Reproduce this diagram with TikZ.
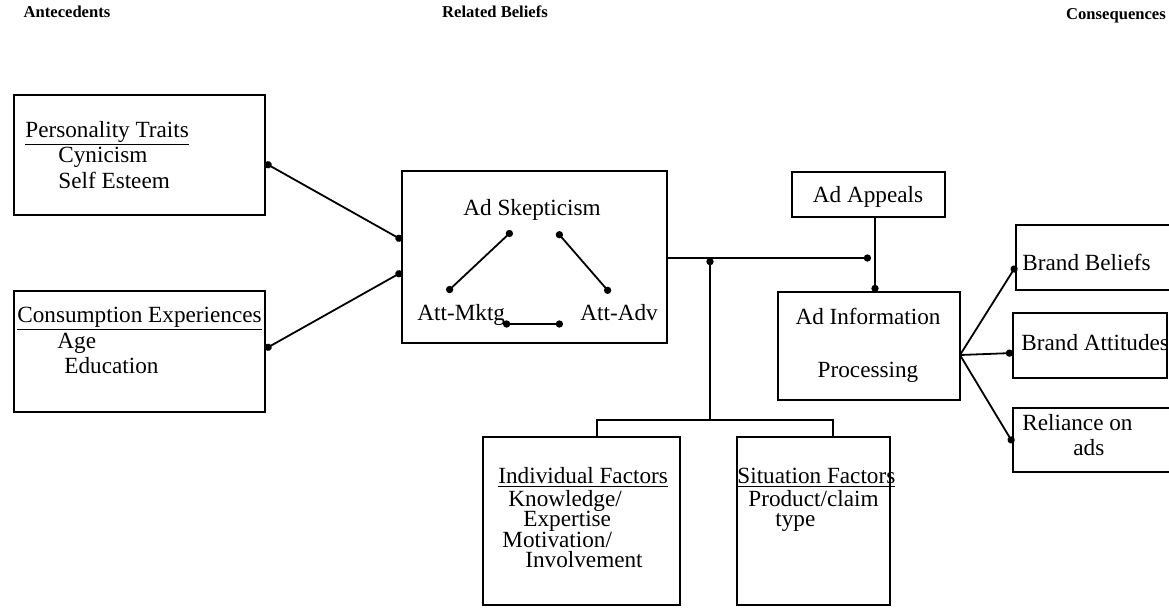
\documentclass[tikz,border=0pt]{standalone}
\usepackage{fontspec}
\setmainfont{Liberation Serif}
\usetikzlibrary{arrows.meta,fit}
\begin{document}
\begin{tikzpicture}[x=0.5pt,y=-0.5pt,
  box/.style={draw,line width=0.9pt,inner sep=0pt,fit=#1},
  txt/.style={anchor=base west,inner sep=0pt,font=\fontsize{11.6}{13}\selectfont},
  multi/.style={anchor=north west,inner sep=0pt,align=left,font=\fontsize{11.6}{10.2}\selectfont},
  head/.style={anchor=base,inner sep=0pt,font=\fontsize{8.3}{10}\selectfont\bfseries},
  link/.style={line width=0.9pt},
  dot/.style={line width=0.9pt,-{Circle[length=3.6pt]}},
  dots/.style={line width=0.9pt,{Circle[length=3.6pt]}-{Circle[length=3.6pt]}}]
\useasboundingbox (0,0) rectangle (1169,607);
% headings
\node[head] (hA) at (67,17) {Antecedents};
\node[head] (hR) at (495,17) {Related Beliefs};
\node[head] (hC) at (1116,19) {Consequences};
% box corners
\coordinate (p1) at (14,95);   \coordinate (p2) at (265,215);
\coordinate (c1) at (14,291);  \coordinate (c2) at (265,412);
\coordinate (m1) at (402,171); \coordinate (m2) at (667,343);
\coordinate (a1) at (792,172); \coordinate (a2) at (945,217);
\coordinate (i1) at (778,292); \coordinate (i2) at (960,400);
\coordinate (b1) at (1016,225); \coordinate (b2) at (1178,290);
\coordinate (t1) at (1013,313); \coordinate (t2) at (1167,378);
\coordinate (r1) at (1013,408); \coordinate (r2) at (1178,472);
\coordinate (d1) at (483,437); \coordinate (d2) at (680,605);
\coordinate (s1) at (737,437); \coordinate (s2) at (890,605);
\node[box={(p1)(p2)}] (pers) {};
\node[box={(c1)(c2)}] (cons) {};
\node[box={(m1)(m2)}] (mid) {};
\node[box={(a1)(a2)}] (appeals) {};
\node[box={(i1)(i2)}] (info) {};
\node[box={(b1)(b2)}] (beliefs) {};
\node[box={(t1)(t2)}] (attitudes) {};
\node[box={(r1)(r2)}] (reliance) {};
\node[box={(d1)(d2)}] (indiv) {};
\node[box={(s1)(s2)}] (situ) {};
% texts
\node[txt] (tp) at (25,137) {\underline{Personality Traits}};
\node[txt] (tp1) at (58,162) {Cynicism};
\node[txt] (tp2) at (58,188) {Self Esteem};
\node[txt] (tc) at (17,322) {\underline{Consumption Experiences}};
\node[txt] (tc1) at (57,348) {Age};
\node[txt] (tc2) at (64,373) {Education};
\node[txt] (skep) at (463,215) {Ad Skepticism};
\node[txt] (attm) at (417,320) {Att-Mktg};
\node[txt] (atta) at (580,320) {Att-Adv};
\node[txt,anchor=base] (tap) at (868,202) {Ad Appeals};
\node[txt,anchor=base] (ti1) at (868,324) {Ad Information};
\node[txt,anchor=base] (ti2) at (868,377) {Processing};
\node[txt] (tb) at (1022,270) {Brand Beliefs};
\node[txt] (tt) at (1021,350) {Brand Attitudes};
\node[multi] (tr) at (1022,414) {Reliance on\\[2.3pt]\hspace*{25.5pt}ads};
\node[txt] (td) at (498,483) {\underline{Individual Factors}};
\node[multi] (tdl) at (502,490) {\hspace*{3pt}Knowledge/\\\hspace*{10.5pt}Expertise\\Motivation/\\\hspace*{11.5pt}Involvement};
\node[txt] (ts) at (737,483) {\underline{Situation Factors}};
\node[multi] (tsl) at (748,490) {Product/claim\\\hspace*{13.5pt}type};
% connector points
\coordinate (pout) at (265,163);
\coordinate (cout) at (265,349);
\coordinate (min1) at (402,240);
\coordinate (min2) at (402,272);
\coordinate (sk1) at (512,231);
\coordinate (sk2) at (557,232);
\coordinate (am1) at (447,292);
\coordinate (aa1) at (610,293);
\coordinate (am2) at (503,324);
\coordinate (aa2) at (563,324);
\coordinate (mout) at (667,258);
\coordinate (jn) at (871,258);
\coordinate (apout) at (875,217);
\coordinate (infin) at (875,292);
\coordinate (infout) at (960,355);
\coordinate (bin) at (1016,266);
\coordinate (tin) at (1013,353);
\coordinate (rin) at (1013,443);
\coordinate (dtop) at (597,437);
\coordinate (stop) at (833,437);
\coordinate (brL) at (597,420);
\coordinate (brR) at (833,420);
\coordinate (brM) at (710,420);
\coordinate (vtop) at (710,258);
% connectors
\draw[dots] (pout) -- (min1);
\draw[dots] (cout) -- (min2);
\draw[dots] (am1) -- (sk1);
\draw[dots] (sk2) -- (aa1);
\draw[dots] (am2) -- (aa2);
\draw[dot] (mout) -- (jn);
\draw[dot] (apout) -- (infin);
\draw[dot] (infout) -- (bin);
\draw[dot] (infout) -- (tin);
\draw[dot] (infout) -- (rin);
\draw[link] (dtop) -- (brL) -- (brR) -- (stop);
\draw[dot] (brM) -- (vtop);
\end{tikzpicture}
\end{document}
